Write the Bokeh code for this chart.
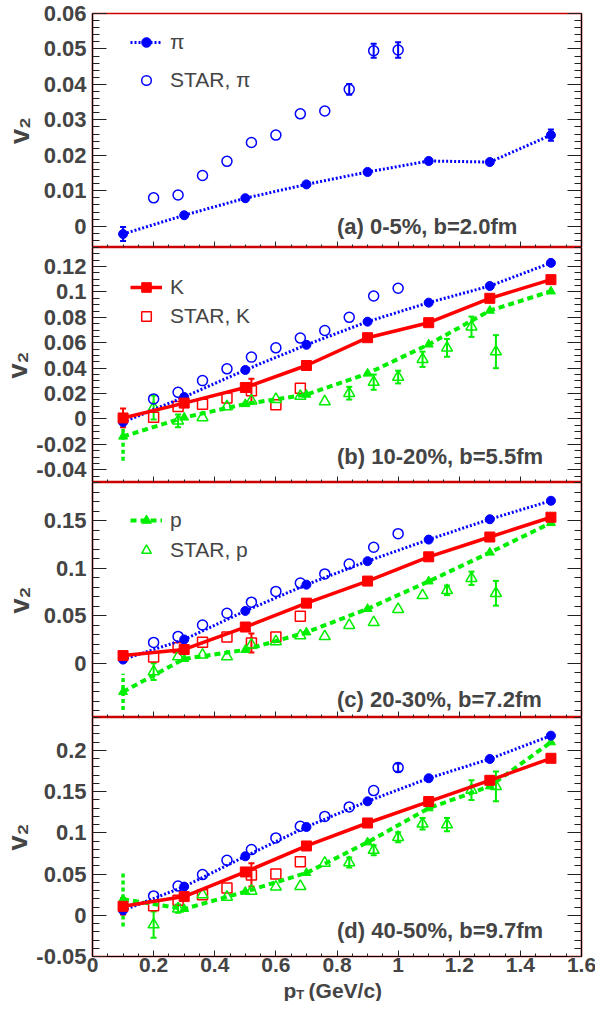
import numpy as np
from bokeh.plotting import figure
from bokeh.layouts import column
from bokeh.models import (Range1d, LinearAxis, FixedTicker, CustomJSTickFormatter,
                          Legend, LegendItem, Label, Whisker, TeeHead, ColumnDataSource)
from bokeh.core.properties import value
from bokeh.embed import file_html
from bokeh.resources import INLINE

# ---------------- data ----------------
pt_model = [0.1, 0.3, 0.5, 0.7, 0.9, 1.1, 1.3, 1.5]
pt_star_pi = [0.2, 0.28, 0.36, 0.44, 0.52, 0.6, 0.68, 0.76, 0.84, 0.92, 1.0]
pt_star_k = [0.2, 0.28, 0.36, 0.44, 0.52, 0.6, 0.68]
pt_star_p = [0.2, 0.28, 0.36, 0.44, 0.52, 0.6, 0.68, 0.76, 0.84, 0.92, 1.0, 1.08, 1.16, 1.24, 1.32]

# (a) 0-5%
a_pi = [-0.0022, 0.0031, 0.0079, 0.0118, 0.0153, 0.0184, 0.0181, 0.0257]
a_pi_err = [0.002, 0, 0, 0, 0, 0, 0, 0.0016]
a_star_pi = [0.0080, 0.0088, 0.0143, 0.0183, 0.0236, 0.0257, 0.0317, 0.0325, 0.0386, 0.0495, 0.0497]
a_star_pi_err = [0, 0, 0, 0, 0, 0, 0, 0, 0.0015, 0.002, 0.0022]

# (b) 10-20%
b_pi = [-0.0025, 0.0173, 0.0386, 0.0584, 0.0766, 0.0916, 0.1047, 0.1229]
b_k = [0.0008, 0.0125, 0.0248, 0.0421, 0.0640, 0.0758, 0.0950, 0.1097]
b_k_err = [0.0074, 0, 0, 0, 0, 0, 0, 0]
b_p = [-0.0138, 0.0012, 0.0118, 0.0192, 0.0358, 0.0587, 0.0853, 0.1005]
b_p_err = [0.019, 0, 0, 0, 0, 0, 0, 0]
b_star_pi = [0.0158, 0.0210, 0.0302, 0.0395, 0.0487, 0.0560, 0.0637, 0.0697, 0.0800, 0.0968, 0.1029]
b_star_k = [0.0013, 0.0098, 0.0116, 0.0166, 0.0222, 0.0113, 0.0242]
b_star_k_err = [0, 0, 0, 0, 0.0095, 0, 0]
b_star_p = [0.0090, -0.0015, 0.0012, 0.0098, 0.0143, 0.0155, 0.0180, 0.0137, 0.0203, 0.0290,
            0.0330, 0.0470, 0.0560, 0.0726, 0.0530]
b_star_p_err = [0.0095, 0.005, 0, 0, 0, 0, 0, 0, 0.005, 0.006, 0.005, 0.006, 0.007, 0.008, 0.013]

# (c) 20-30%
c_pi = [0.0039, 0.0250, 0.0550, 0.0826, 0.1073, 0.1300, 0.1514, 0.1708]
c_k = [0.0081, 0.0145, 0.0381, 0.0632, 0.0864, 0.1119, 0.1327, 0.1535]
c_p = [-0.0300, 0.0046, 0.0141, 0.0325, 0.0572, 0.0861, 0.1164, 0.1475]
c_p_err = [0.019, 0, 0, 0, 0, 0, 0, 0]
c_star_pi = [0.0219, 0.0282, 0.0402, 0.0526, 0.0642, 0.0755, 0.0843, 0.0939, 0.1044, 0.1220, 0.1362]
c_star_k = [0.0067, 0.0162, 0.0222, 0.0275, 0.0212, 0.0275, 0.0494]
c_star_k_err = [0, 0, 0, 0, 0.010, 0, 0]
c_star_p = [-0.0088, 0.0070, 0.0088, 0.0070, 0.0194, 0.0229, 0.0290, 0.0282, 0.0400, 0.0430,
            0.0568, 0.0713, 0.0766, 0.0893, 0.0736]
c_star_p_err = [0.0088, 0, 0, 0, 0, 0, 0, 0, 0, 0, 0, 0, 0.005, 0.007, 0.013]

# (d) 40-50%
d_pi = [0.0060, 0.0348, 0.0716, 0.1072, 0.1383, 0.1663, 0.1897, 0.2180]
d_k = [0.0109, 0.0227, 0.0526, 0.0841, 0.1120, 0.1380, 0.1638, 0.1905]
d_k_err = [0.010, 0, 0, 0, 0, 0, 0, 0]
d_p = [0.0195, 0.0077, 0.0287, 0.0514, 0.0886, 0.1299, 0.1566, 0.2100]
d_p_err = [0.033, 0, 0, 0, 0, 0, 0, 0]
d_star_pi = [0.0235, 0.0356, 0.0494, 0.0667, 0.0797, 0.0939, 0.1080, 0.1200, 0.1315, 0.1513, 0.1792]
d_star_pi_err = [0, 0, 0, 0, 0, 0, 0, 0, 0, 0, 0.005]
d_star_k = [0.0117, 0.0182, 0.0250, 0.0332, 0.0490, 0.0502, 0.0651]
d_star_k_err = [0, 0, 0, 0, 0.014, 0, 0]
d_star_p = [-0.0113, 0.0080, 0.0250, 0.0222, 0.0295, 0.0344, 0.0352, 0.0635, 0.0640, 0.0790,
            0.0947, 0.1110, 0.1100, 0.1520, 0.1565]
d_star_p_err = [0.016, 0.005, 0, 0, 0, 0, 0, 0, 0.006, 0.006, 0.006, 0.007, 0.008, 0.012, 0.018]

panel_texts = ["(a) 0-5%, b=2.0fm", "(b) 10-20%, b=5.5fm", "(c) 20-30%, b=7.2fm", "(d) 40-50%, b=9.7fm"]
y_title = "v\u2082"
x_major = [0, 0.2, 0.4, 0.6, 0.8, 1.0, 1.2, 1.4, 1.6]

# ---------------- style / geometry ----------------
FONT = "Liberation Sans"
BLUE, RED, GREEN = "#0000ff", "#ff0000", "#00ee00"
FMT = "return String(Number(tick.toFixed(4)));"
BORDER_L = 89
BORDER_R = 17
FRAME_W = 489
TOP_A = 13
FRAME_H = [234, 235, 235, 239]
BOTTOM_D = 27
TITLE_H = 32
TITLE_PULL = -14      # title strip is pulled up into the empty part of the tick-label band


def ticks(start, stop, step):
    n = int(round((stop - start) / step))
    return [round(start + i * step, 6) for i in range(n + 1)]


def add_errors(p, xs, ys, errs, color, dashed=False):
    sel = [(x, y, e) for x, y, e in zip(xs, ys, errs) if e > 0]
    if not sel:
        return
    src = ColumnDataSource(dict(x=[s[0] for s in sel],
                                lo=[s[1] - s[2] for s in sel],
                                hi=[s[1] + s[2] for s in sel]))
    if dashed:
        w = Whisker(source=src, base="x", lower="lo", upper="hi", dimension="height",
                    line_color=color, line_width=3.5, line_dash="4 3",
                    upper_head=None, lower_head=None)
    else:
        w = Whisker(source=src, base="x", lower="lo", upper="hi", dimension="height",
                    line_color=color, line_width=2,
                    upper_head=TeeHead(size=6, line_color=color, line_width=2),
                    lower_head=TeeHead(size=6, line_color=color, line_width=2))
    p.add_layout(w)


def make_panel(yr, majors, minors, fheight, top, bottom, xlabels, title_standoff):
    p = figure(frame_width=FRAME_W, frame_height=fheight,
               x_range=Range1d(0, 1.6), y_range=Range1d(*yr),
               x_axis_type=None, y_axis_type=None,
               output_backend="svg", toolbar_location=None,
               min_border_left=BORDER_L, min_border_right=BORDER_R,
               min_border_top=top, min_border_bottom=bottom)
    p.outline_line_color = "#cc0000"
    p.outline_line_width = 1.5
    p.background_fill_color = "white"
    p.border_fill_color = "white"

    yt = FixedTicker(ticks=majors, minor_ticks=minors)
    left = LinearAxis(ticker=yt, formatter=CustomJSTickFormatter(code=FMT))
    right = LinearAxis(ticker=yt, formatter=CustomJSTickFormatter(code="return '';"))
    for ax in (left, right):
        ax.major_tick_in = 14
        ax.major_tick_out = 0
        ax.minor_tick_in = 7
        ax.minor_tick_out = 0
        ax.major_tick_line_color = "#222222"
        ax.minor_tick_line_color = "#222222"
        ax.axis_line_color = "black"
        ax.axis_line_width = 1.2
    left.major_label_text_font = FONT
    left.major_label_text_font_style = "bold"
    left.major_label_text_font_size = "22px"
    left.major_label_standoff = 6
    left.axis_label = y_title
    left.axis_label_text_font = FONT
    left.axis_label_text_font_style = "bold"
    left.axis_label_text_font_size = "27px"
    left.axis_label_standoff = title_standoff
    right.major_label_text_font_size = "0px"
    right.major_label_standoff = 0
    p.add_layout(left, "left")
    p.add_layout(right, "right")

    xt = FixedTicker(ticks=x_major, minor_ticks=ticks(0, 1.6, 0.05))
    bx = LinearAxis(ticker=xt)
    bx.major_tick_in = 6
    bx.major_tick_out = 0
    bx.minor_tick_in = 3
    bx.minor_tick_out = 0
    bx.major_tick_line_color = "#222222"
    bx.minor_tick_line_color = "#222222"
    bx.axis_line_color = "black"
    bx.axis_line_width = 1.2
    if xlabels:
        bx.formatter = CustomJSTickFormatter(code=FMT)
        bx.major_label_text_font = FONT
        bx.major_label_text_font_style = "bold"
        bx.major_label_text_font_size = "21px"
        bx.major_label_standoff = 1
    else:
        bx.formatter = CustomJSTickFormatter(code="return '';")
        bx.major_label_text_font_size = "0px"
        bx.major_label_standoff = 0
    p.add_layout(bx, "below")
    return p


def draw(p, pi, pi_err, k, k_err, pr, pr_err, spi, spi_err, sk, sk_err, sp, sp_err):
    r = {}
    if sk is not None:
        add_errors(p, pt_star_k, sk, sk_err, RED)
        r["sk"] = p.scatter(pt_star_k, sk, marker="square", size=10, fill_color=None,
                            line_color=RED, line_width=1.5)
    if sp is not None:
        add_errors(p, pt_star_p, sp, sp_err, GREEN)
        r["sp"] = p.scatter(pt_star_p, sp, marker="triangle", size=11, fill_color=None,
                            line_color=GREEN, line_width=1.5)
    add_errors(p, pt_star_pi, spi, spi_err, BLUE)
    r["spi"] = p.scatter(pt_star_pi, spi, marker="circle", size=10, fill_color=None,
                         line_color=BLUE, line_width=1.5)
    if pr is not None:
        add_errors(p, pt_model, pr, pr_err, GREEN, dashed=True)
        r["pl"] = p.line(pt_model, pr, line_color=GREEN, line_width=4, line_dash="6 4")
        r["ps"] = p.scatter(pt_model, pr, marker="triangle", size=9, fill_color=GREEN,
                            line_color=GREEN)
    add_errors(p, pt_model, pi, pi_err, BLUE)
    r["pil"] = p.line(pt_model, pi, line_color=BLUE, line_width=3, line_dash="2 2")
    r["pis"] = p.scatter(pt_model, pi, marker="circle", size=9, fill_color=BLUE, line_color=BLUE)
    if k is not None:
        add_errors(p, pt_model, k, k_err, RED)
        r["kl"] = p.line(pt_model, k, line_color=RED, line_width=3.5)
        r["ks"] = p.scatter(pt_model, k, marker="square", size=10, fill_color=RED, line_color=RED)
    return r


def add_legend(p, items, loc, spacing):
    leg = Legend(items=items, location=loc, orientation="vertical", padding=0, margin=0,
                 spacing=spacing, glyph_width=32, glyph_height=24, label_height=24,
                 label_standoff=8, label_text_font=FONT, label_text_font_size="21px",
                 border_line_alpha=0, background_fill_alpha=0)
    p.add_layout(leg)


def panel_label(p, yr, text, off):
    p.add_layout(Label(x=0.8, y=yr[0], y_offset=off, text=text, text_font=FONT,
                       text_font_style="bold", text_font_size="22px",
                       text_align="left", text_baseline="alphabetic"))


zero = [0] * 8

# ---- panel (a)
yr_a = (-0.006, 0.06)
pa = make_panel(yr_a, ticks(0, 0.06, 0.01), ticks(-0.006, 0.06, 0.002), FRAME_H[0], TOP_A, 0, False, 6)
ra = draw(pa, a_pi, a_pi_err, None, None, None, None, a_star_pi, a_star_pi_err, None, None, None, None)
add_legend(pa, [LegendItem(label=value("π"), renderers=[ra["pil"], ra["pis"]]),
                LegendItem(label=value("STAR, π"), renderers=[ra["spi"]])], (38, 155), 14)
panel_label(pa, yr_a, panel_texts[0], 21)

# ---- panel (b)
yr_b = (-0.05, 0.135)
pb = make_panel(yr_b, ticks(-0.04, 0.12, 0.02), ticks(-0.05, 0.135, 0.005), FRAME_H[1], 0, 0, False, 0)
rb = draw(pb, b_pi, zero, b_k, b_k_err, b_p, b_p_err, b_star_pi, [0] * 11,
          b_star_k, b_star_k_err, b_star_p, b_star_p_err)
add_legend(pb, [LegendItem(label=value("K"), renderers=[rb["kl"], rb["ks"]]),
                LegendItem(label=value("STAR, K"), renderers=[rb["sk"]])], (38, 154), 5)
panel_label(pb, yr_b, panel_texts[1], 26)

# ---- panel (c)
yr_c = (-0.057, 0.19)
pc = make_panel(yr_c, ticks(0, 0.15, 0.05), ticks(-0.05, 0.19, 0.01), FRAME_H[2], 0, 0, False, 6)
rc = draw(pc, c_pi, zero, c_k, zero, c_p, c_p_err, c_star_pi, [0] * 11,
          c_star_k, c_star_k_err, c_star_p, c_star_p_err)
add_legend(pc, [LegendItem(label=value("p"), renderers=[rc["pl"], rc["ps"]]),
                LegendItem(label=value("STAR, p"), renderers=[rc["sp"]])], (38, 155), 6)
panel_label(pc, yr_c, panel_texts[2], 18)

# ---- panel (d)
yr_d = (-0.05, 0.24)
pd_ = make_panel(yr_d, ticks(-0.05, 0.2, 0.05), ticks(-0.05, 0.24, 0.01), FRAME_H[3], 0, BOTTOM_D, True, 0)
rd = draw(pd_, d_pi, zero, d_k, d_k_err, d_p, d_p_err, d_star_pi, d_star_pi_err,
          d_star_k, d_star_k_err, d_star_p, d_star_p_err)
panel_label(pd_, yr_d, panel_texts[3], 26)

# ---- x-axis title strip: p_T (GeV/c)
xs = figure(frame_width=FRAME_W, frame_height=TITLE_H, x_range=Range1d(0, 1.6),
            y_range=Range1d(TITLE_H, 0), x_axis_type=None, y_axis_type=None,
            output_backend="svg", toolbar_location=None,
            min_border_left=BORDER_L, min_border_right=BORDER_R,
            min_border_top=0, min_border_bottom=0,
            margin=(TITLE_PULL, 0, 0, 0))
xs.outline_line_color = None
xs.background_fill_alpha = 0
xs.border_fill_alpha = 0
xs.add_layout(Label(x=0.625, y=21, text="p", text_font=FONT, text_font_style="bold",
                    text_font_size="21px", text_align="left", text_baseline="alphabetic"))
xs.add_layout(Label(x=0.667, y=25, text="T", text_font=FONT, text_font_style="bold",
                    text_font_size="13px", text_align="left", text_baseline="alphabetic"))
xs.add_layout(Label(x=0.707, y=21, text="(GeV/c)", text_font=FONT, text_font_style="bold",
                    text_font_size="21px", text_align="left", text_baseline="alphabetic"))

layout = column(pa, pb, pc, pd_, xs, spacing=0)
open("out.html", "w").write(file_html(layout, INLINE))
